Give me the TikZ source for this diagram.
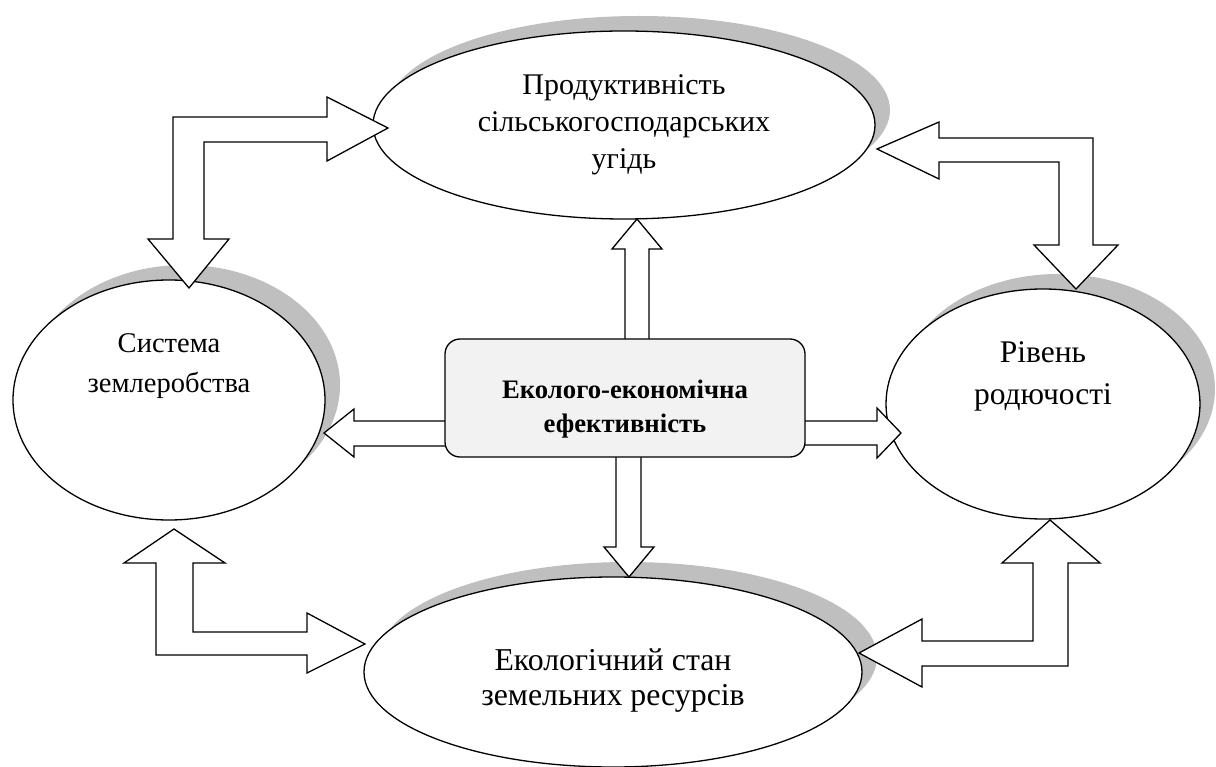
\documentclass[tikz,border=0pt]{standalone}
\usepackage{fontspec}
\setmainfont{Liberation Serif}
\usetikzlibrary{shapes.geometric,calc,backgrounds}

\definecolor{shadowgray}{RGB}{191,191,191}
\definecolor{boxgray}{RGB}{242,242,242}

\begin{document}
\begin{tikzpicture}[
    x=1pt, y=-1pt,
    factor/.style={ellipse, draw, line width=1.3pt, fill=white, inner sep=0pt},
    shadowfill/.style={fill=shadowgray, draw=none},
    effbox/.style={draw, line width=1.3pt, rounded corners=15pt, fill=boxgray,
      minimum width=360pt, minimum height=118pt},
    lbl/.style={align=center, inner sep=0pt},
    blockarrow/.style={draw, line width=1.3pt, fill=white, line join=miter}
  ]
  \useasboundingbox (0,0) rectangle (1216,767);

  % the four factors
  \node[factor, minimum width=502pt, minimum height=188pt] (prod) at (624,125) {};
  \node[factor, minimum width=312pt, minimum height=240pt] (sys) at (169,400) {};
  \node[factor, minimum width=314pt, minimum height=230pt] (fert) at (1043,404) {};
  \node[factor, minimum width=498pt, minimum height=190pt] (ecol) at (613,672) {};

  % grey shadows, up and to the right
  \begin{scope}[on background layer]
    \fill[shadowfill] ($(prod)+(15,-15)$) ellipse [x radius=251, y radius=94];
    \fill[shadowfill] ($(sys)+(15,-15)$) ellipse [x radius=156, y radius=120];
    \fill[shadowfill] ($(fert)+(15,-15)$) ellipse [x radius=157, y radius=115];
    \fill[shadowfill] ($(ecol)+(15,-15)$) ellipse [x radius=249, y radius=95];
  \end{scope}

  \node[lbl, font=\fontsize{30}{37}\selectfont] (prodtxt) at (prod) {Продуктивність\\сільськогосподарських\\угідь};
  \node[lbl, font=\fontsize{28.5}{40}\selectfont] (systxt) at ($(sys)+(0,-34)$) {Система\\землеробства};
  \node[lbl, font=\fontsize{31.5}{42}\selectfont] (ferttxt) at ($(fert)+(0,-28)$) {Рівень\\родючості};
  \node[lbl, font=\fontsize{31.8}{35}\selectfont] (ecoltxt) at ($(ecol)+(0,9)$) {Екологічний стан\\земельних ресурсів};

  % arrows out of the centre box
  \draw[blockarrow] (625,380) -- (625,249) -- (612,249) -- (637,219) -- (662,249) -- (649,249) -- (649,380) -- cycle;
  \draw[blockarrow] (616,420) -- (616,547) -- (604,547) -- (629,577) -- (654,547) -- (641,547) -- (641,420) -- cycle;
  \draw[blockarrow] (470,421) -- (354,421) -- (354,409) -- (324,433) -- (354,457) -- (354,446) -- (470,446) -- cycle;
  \draw[blockarrow] (780,421) -- (877,421) -- (877,408) -- (901,433) -- (877,458) -- (877,445) -- (780,445) -- cycle;

  % two-way arrows between neighbours
  \draw[blockarrow] (173,239) -- (148,239) -- (189,288) -- (229,239) -- (204,239) -- (204,142) -- (327,142)
    -- (327,161) -- (388,128) -- (327,97) -- (327,117) -- (173,117) -- cycle;
  \draw[blockarrow] (877,149) -- (939,122) -- (939,138) -- (1093,138) -- (1093,245) -- (1118,245) -- (1076,289)
    -- (1034,245) -- (1059,245) -- (1059,162) -- (939,162) -- (939,179) -- cycle;
  \draw[blockarrow] (174,529) -- (225,563) -- (193,563) -- (193,632) -- (307,632) -- (307,613) -- (365,644)
    -- (307,673) -- (307,655) -- (156,655) -- (156,563) -- (124,563) -- cycle;
  \draw[blockarrow] (859,653) -- (922,619) -- (922,641) -- (1033,641) -- (1033,563) -- (1002,563) -- (1050,520)
    -- (1100,563) -- (1068,563) -- (1068,666) -- (922,666) -- (922,687) -- cycle;

  % centre box on top of the arrow shafts
  \node[effbox] (eff) at (625,398) {};
  \node[lbl, font=\bfseries\fontsize{26.7}{34}\selectfont] (efftxt) at ($(eff)+(0,11)$) {Еколого-економічна\\ефективність};
\end{tikzpicture}
\end{document}
